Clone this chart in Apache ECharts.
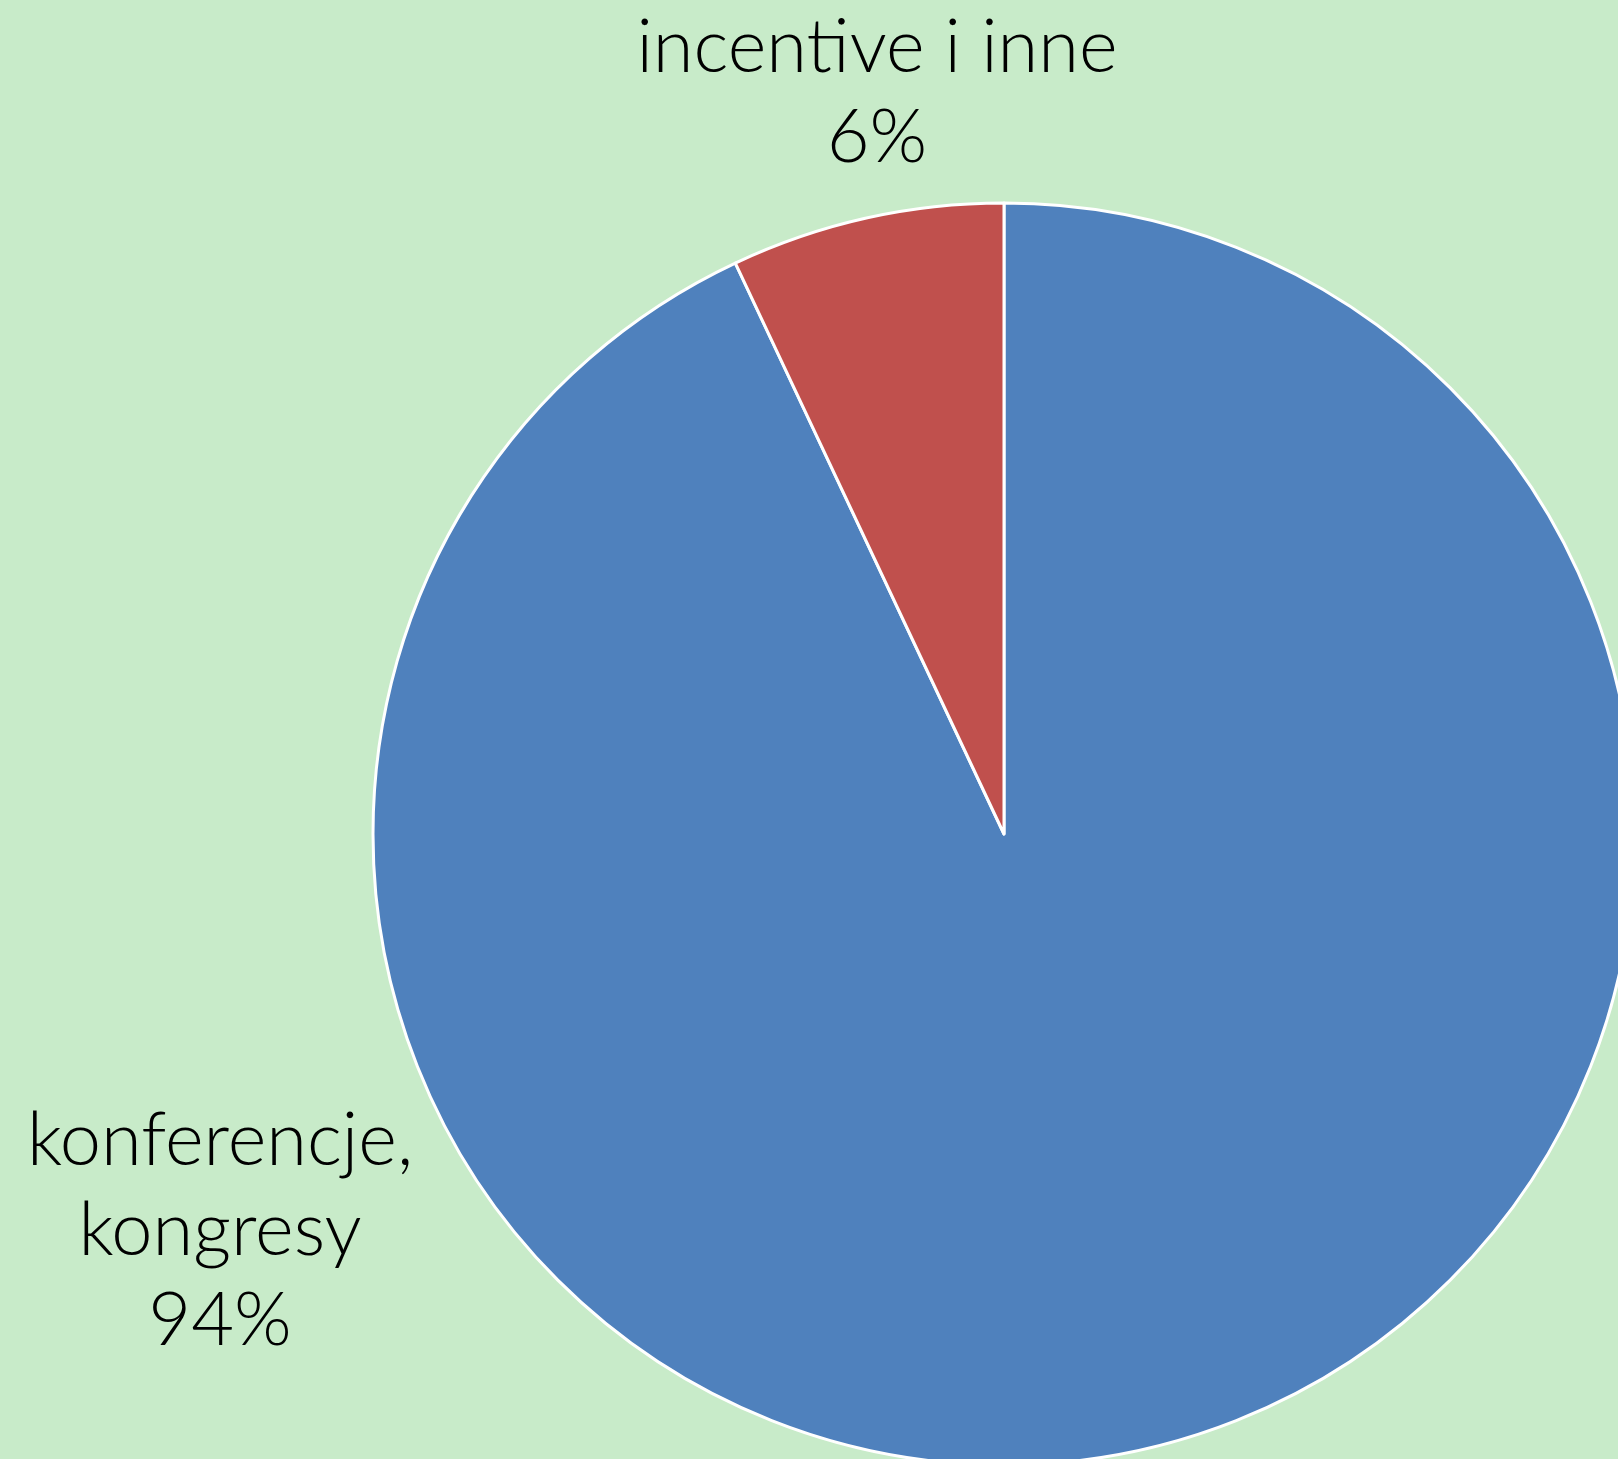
<!DOCTYPE html>
<html>
<head>
<meta charset="utf-8">
<script src="https://cdn.jsdelivr.net/npm/echarts@6/dist/echarts.min.js"></script>
<style>
  html, body { margin: 0; padding: 0; background: #c8ebc9; }
  #chart { width: 1618px; height: 1459px; }
</style>
</head>
<body>
<div id="chart"></div>
<script>
// dane
const categories = ['konferencje,\nkongresy', 'incentive i inne']
const values = [93, 7]
const percentLabels = ['94%', '6%']

// pozycje etykiet
const labelPos = [
  { x: 220, y: 1231 },
  { x: 877, y: 93 }
]

const myChart = echarts.init(document.getElementById('chart'))

myChart.setOption({
  backgroundColor: '#c8ebc9',
  animation: false,
  series: [
    {
      type: 'pie',
      center: [1004, 834],
      radius: 631,
      startAngle: 90,
      clockwise: true,
      data: categories.map((name, i) => ({ name, value: values[i] })),
      color: ['#4f81bd', '#c0504d'],
      itemStyle: {
        borderColor: '#ffffff',
        borderWidth: 3
      },
      label: {
        show: true,
        position: 'outside',
        fontFamily: 'Lato',
        fontWeight: 300,
        fontSize: 74,
        lineHeight: 90,
        color: '#000',
        align: 'center',
        formatter: p => p.name + '\n' + percentLabels[p.dataIndex]
      },
      labelLine: { show: false },
      labelLayout: params => ({
        x: labelPos[params.dataIndex].x,
        y: labelPos[params.dataIndex].y,
        align: 'center',
        verticalAlign: 'middle'
      })
    }
  ]
})
</script>
</body>
</html>
